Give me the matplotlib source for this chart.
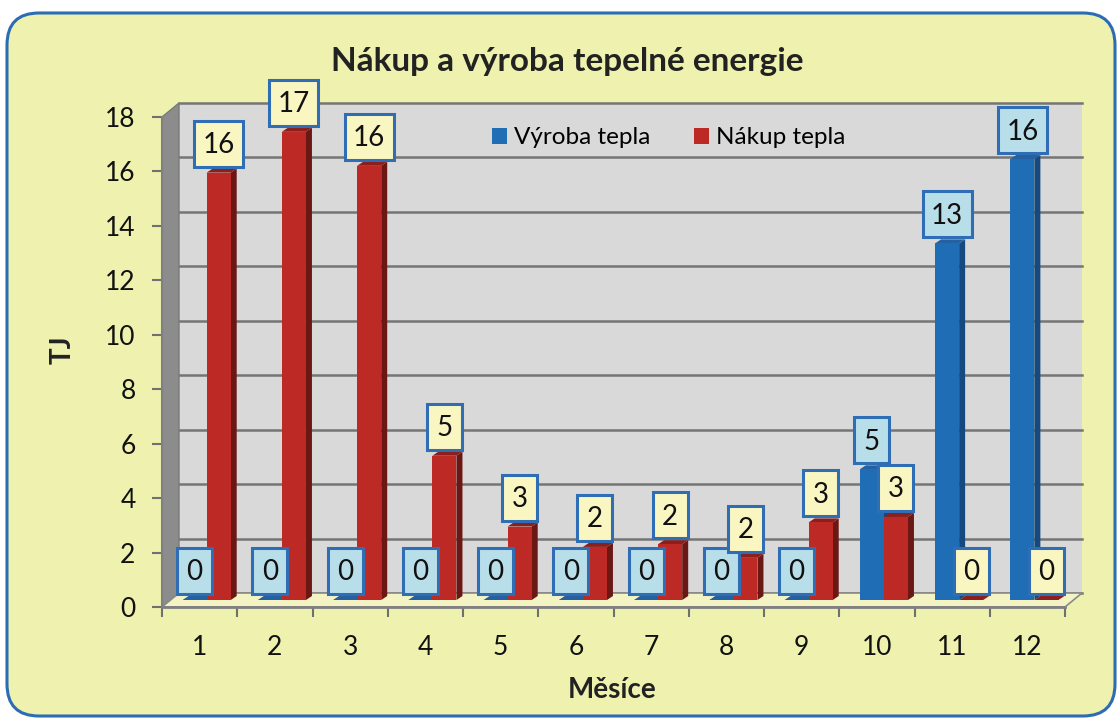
import matplotlib.pyplot as plt
from matplotlib.patches import Polygon, Rectangle, FancyBboxPatch
from matplotlib.lines import Line2D

plt.rcParams['font.family'] = ['Lato', 'DejaVu Sans']

# data
months = [1, 2, 3, 4, 5, 6, 7, 8, 9, 10, 11, 12]
vyroba = [0, 0, 0, 0, 0, 0, 0, 0, 0, 4.8, 13.1, 16.2]
nakup = [15.7, 17.2, 15.95, 5.3, 2.7, 1.95, 2.05, 1.55, 2.85, 3.05, 0, 0]
series_names = ['Výroba tepla', 'Nákup tepla']
yticks = [0, 2, 4, 6, 8, 10, 12, 14, 16, 18]

blue, blue_side, blue_top = '#1f6db5', '#16497e', '#2560a0'
red, red_side, red_top = '#bd2a25', '#6b1714', '#8c1f1b'
box_edge = '#2f6eb5'

W, H = 1120, 719
fig = plt.figure(figsize=(W / 100, H / 100), dpi=100)
fig.patch.set_facecolor('white')

# rounded yellow panel
bg = fig.add_axes([0, 0, 1, 1], zorder=-1)
bg.set_xlim(0, W)
bg.set_ylim(0, H)
bg.axis('off')
bg.add_patch(FancyBboxPatch((7, 3), 1108, 703, boxstyle='round,pad=0,rounding_size=32',
                            fc='#eef2ae', ec='#2b6cb2', lw=2.2))

ax = fig.add_axes([162 / W, 1 - 607 / H, 903 / W, 490 / H])
ax.set_facecolor('none')
ax.set_xlim(0.5, 12.5)
ax.set_ylim(0, 18)

# depth offsets (pixels -> data units)
ux = 903 / 12.0
uy = 490 / 18.0
ddx, ddy = 17 / ux, 14 / uy
bx, by = 7 / ux, 7 / uy
sx, sy = 6 / ux, 4 / uy
bw = 0.32

# back wall, side wall, floor
ax.add_patch(Rectangle((0.5 + ddx, ddy), 12, 18, fc='#d9d9d9', ec='none', zorder=0, clip_on=False))
for t in yticks:
    ax.add_line(Line2D([0.5 + ddx, 12.5 + ddx], [t + ddy, t + ddy], color='#757575', lw=1.8,
                       zorder=1, clip_on=False))
ax.add_patch(Polygon([(0.5, 0), (0.5, 18), (0.5 + ddx, 18 + ddy), (0.5 + ddx, ddy)],
                     closed=True, fc='#8c8c8c', ec='#7a7a7a', lw=1, zorder=1, clip_on=False))
ax.add_patch(Polygon([(0.5, 0), (12.5, 0), (12.5 + ddx, ddy), (0.5 + ddx, ddy)],
                     closed=True, fc='#f4f3c4', ec='#8a8a8a', lw=1.2, zorder=2, clip_on=False))

z = 3
for i, m in enumerate(months):
    for k, (vals, fc, sc, tc, lfc) in enumerate([(vyroba, blue, blue_side, blue_top, '#b8dfe9'),
                                                 (nakup, red, red_side, red_top, '#faf6c2')]):
        v = vals[i]
        x0 = m - bw + k * bw + bx
        x1 = x0 + bw
        b = by
        ax.add_patch(Polygon([(x1, b), (x1, b + v), (x1 + sx, b + v + sy), (x1 + sx, b + sy)],
                             closed=True, fc=sc, ec='none', zorder=z, clip_on=False))
        ax.add_patch(Polygon([(x0, b + v), (x1, b + v), (x1 + sx, b + v + sy), (x0 + sx, b + v + sy)],
                             closed=True, fc=tc, ec='none', zorder=z, clip_on=False))
        if v > 0:
            ax.add_patch(Rectangle((x0, b), bw, v, fc=fc, ec='none', zorder=z + 0.5, clip_on=False))
        z += 1
        # data label box
        s = f'{v:.0f}'
        xc = (x0 + x1) / 2
        yc = b + v + 29 / uy
        wb = (21 + 14 * len(s)) / ux
        hb = 46 / uy
        ax.add_patch(Rectangle((xc - wb / 2, yc - hb / 2), wb, hb, fc=lfc, ec=box_edge, lw=2.2,
                               zorder=100, clip_on=False))
        ax.text(xc, yc - 1.5 / uy, s, ha='center', va='center', fontsize=20, color='#111111',
                zorder=101)

# axes styling
for s in ['top', 'right']:
    ax.spines[s].set_visible(False)
ax.spines['left'].set_color('#808080')
ax.spines['left'].set_linewidth(1.5)
ax.spines['bottom'].set_color('#808080')
ax.spines['bottom'].set_linewidth(2)
ax.spines['bottom'].set_zorder(2.5)
ax.set_yticks(yticks)
ax.tick_params(axis='y', length=7, width=1.5, color='#707070', pad=12, labelsize=19, labelcolor='#111111')
ax.set_xticks(months)
ax.set_xticks([m - 0.5 for m in months] + [12.5], minor=True)
ax.tick_params(axis='x', which='major', length=0, pad=20, labelsize=19, labelcolor='#111111')
ax.tick_params(axis='x', which='minor', length=7, width=1.5, color='#707070')

ax.legend(handles=[Rectangle((0, 0), 1, 1, fc=blue), Rectangle((0, 0), 1, 1, fc=red)],
          labels=series_names, ncol=2, frameon=False, fontsize=17.5,
          loc='center left', bbox_to_anchor=(492 / W, 1 - 138 / H), bbox_transform=fig.transFigure,
          borderpad=0, borderaxespad=0, handlelength=0.6, handleheight=0.6,
          handletextpad=0.3, columnspacing=1.8)

fig.text(567 / W, 1 - 62 / H, 'Nákup a výroba tepelné energie', ha='center', va='center',
         fontsize=24, fontweight='bold', color='#222222')
fig.text(612 / W, 1 - 690 / H, 'Měsíce', ha='center', va='center', fontsize=20,
         fontweight='bold', color='#222222')
fig.text(63 / W, 1 - 350 / H, 'TJ', ha='center', va='center', rotation=90, fontsize=20,
         fontweight='bold', color='#222222')

fig.savefig('out.png', dpi=100)
